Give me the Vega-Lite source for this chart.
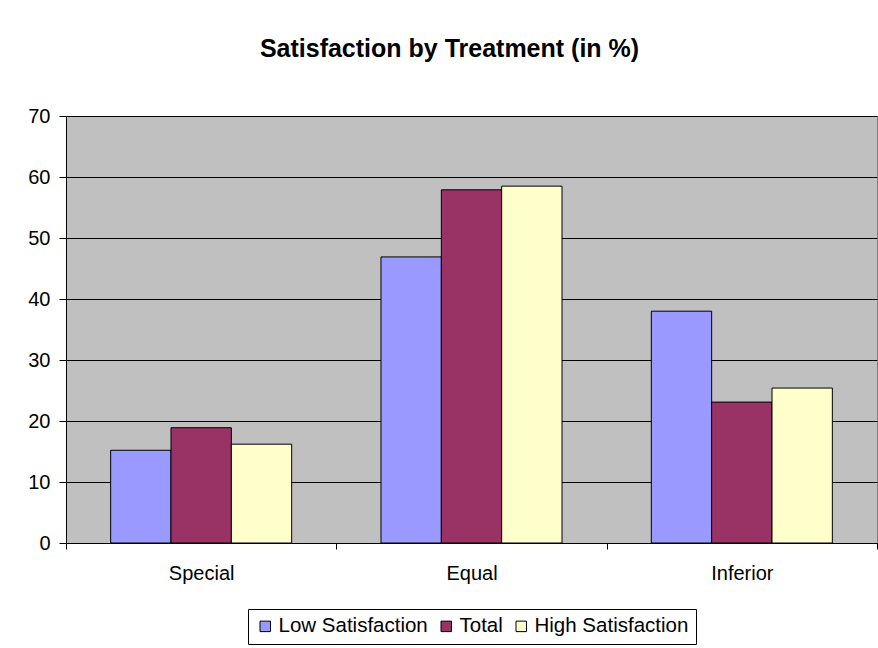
{
  "$schema": "https://vega.github.io/schema/vega-lite/v6.json",
  "autosize": "none",
  "width": 811,
  "height": 427,
  "padding": {"left": 66, "top": 116, "right": 1, "bottom": 105},
  "background": "white",
  "title": {
    "text": "Satisfaction by Treatment (in %)",
    "font": "Liberation Sans",
    "fontSize": 25,
    "fontWeight": "bold",
    "color": "black",
    "anchor": "middle",
    "dx": -22,
    "offset": 44
  },
  "data": {
    "values": [
      {"Treatment": "Special", "Series": "Low Satisfaction", "Value": 15.2},
      {"Treatment": "Special", "Series": "Total", "Value": 18.9},
      {"Treatment": "Special", "Series": "High Satisfaction", "Value": 16.2},
      {"Treatment": "Equal", "Series": "Low Satisfaction", "Value": 46.9},
      {"Treatment": "Equal", "Series": "Total", "Value": 57.9},
      {"Treatment": "Equal", "Series": "High Satisfaction", "Value": 58.5},
      {"Treatment": "Inferior", "Series": "Low Satisfaction", "Value": 38.0},
      {"Treatment": "Inferior", "Series": "Total", "Value": 23.1},
      {"Treatment": "Inferior", "Series": "High Satisfaction", "Value": 25.4}
    ]
  },
  "mark": {"type": "bar", "stroke": "black", "strokeWidth": 1},
  "encoding": {
    "x": {
      "field": "Treatment",
      "type": "nominal",
      "sort": ["Special", "Equal", "Inferior"],
      "scale": {"paddingInner": 0, "paddingOuter": 0},
      "axis": {
        "title": null,
        "labelAngle": 0,
        "tickBand": "extent",
        "tickSize": 6,
        "tickColor": "black",
        "domainColor": "black",
        "labelPadding": 14,
        "labelFont": "Liberation Sans",
        "labelFontSize": 20,
        "labelColor": "black"
      }
    },
    "xOffset": {
      "field": "Series",
      "type": "nominal",
      "sort": ["Low Satisfaction", "Total", "High Satisfaction"],
      "scale": {"paddingInner": 0, "paddingOuter": 0.74}
    },
    "y": {
      "field": "Value",
      "type": "quantitative",
      "scale": {"domain": [0, 70], "nice": false},
      "axis": {
        "title": null,
        "values": [0, 10, 20, 30, 40, 50, 60, 70],
        "tickSize": 7,
        "tickColor": "black",
        "domainColor": "black",
        "gridColor": "black",
        "gridWidth": 1,
        "labelPadding": 9,
        "labelFont": "Liberation Sans",
        "labelFontSize": 20,
        "labelColor": "black"
      }
    },
    "color": {
      "field": "Series",
      "type": "nominal",
      "sort": ["Low Satisfaction", "Total", "High Satisfaction"],
      "scale": {
        "domain": ["Low Satisfaction", "Total", "High Satisfaction"],
        "range": ["#9999FF", "#993366", "#FFFFCC"]
      },
      "legend": {
        "title": null,
        "orient": "none",
        "direction": "horizontal",
        "legendX": 182,
        "legendY": 493,
        "strokeColor": "black",
        "padding": 7,
        "symbolType": "square",
        "symbolSize": 110,
        "symbolStrokeColor": "black",
        "symbolStrokeWidth": 1,
        "symbolOpacity": 1,
        "labelFont": "Liberation Sans",
        "labelFontSize": 20.5,
        "labelColor": "black",
        "labelOffset": 3,
        "columnPadding": 8,
        "labelLimit": 300
      }
    }
  },
  "config": {
    "view": {"fill": "#C0C0C0", "stroke": "#808080", "strokeWidth": 1},
    "axis": {"gridOpacity": 1, "domainWidth": 1, "tickWidth": 1}
  }
}
